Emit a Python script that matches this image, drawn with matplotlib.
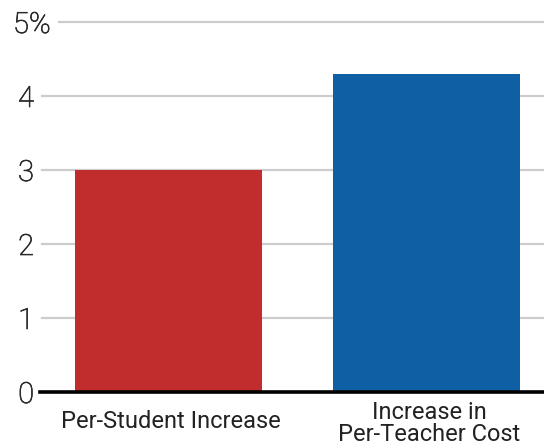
import matplotlib
matplotlib.use('Agg')
import matplotlib.pyplot as plt
import matplotlib.transforms as mtransforms
import matplotlib.patheffects as pe

plt.rcParams['font.family'] = ['Roboto', 'DejaVu Sans']

categories = ['Per-Student Increase', 'Increase in\nPer-Teacher Cost']
values = [3.0, 4.3]
colors = ['#C12D2C', '#0E5FA3']
yticks = [0, 1, 2, 3, 4, 5]
ytick_labels = ['0', '1', '2', '3', '4', '5%']

W, H = 544, 447
fig = plt.figure(figsize=(W / 100, H / 100), dpi=100)
# axes from x=40px to right edge, y=0 at 392px, y=5 at 22px
ax = fig.add_axes([40 / W, (H - 392) / H, (W - 40) / W, 370 / H])

xpos = list(range(len(categories)))
ax.bar(xpos, values, width=0.725, color=colors, zorder=3)
ax.set_xlim(-0.498, 1.455)
ax.set_ylim(0, 5)

# gridlines (top one starts after the "5%" label)
for t in yticks[1:]:
    xmin = 19 / (W - 40) if t == 5 else 2 / (W - 40)
    ax.axhline(t, xmin=xmin, xmax=1, color='#cccccc', lw=1.6, zorder=1, clip_on=False)
ax.axhline(0, color='black', lw=2.6, zorder=4, clip_on=False)

for s in ax.spines.values():
    s.set_visible(False)
ax.set_xticks([])
ax.set_yticks([])

# y labels: digits right-aligned at 33px, "5%" starting at 13px
ytrans = mtransforms.blended_transform_factory(fig.transFigure, ax.transData)
thicken = [pe.withStroke(linewidth=0.5, foreground='#2a2a2a')]
for t, lab in zip(yticks, ytick_labels):
    if lab.endswith('%'):
        ax.text(13 / W, t, lab, transform=ytrans, ha='left', va='center_baseline',
                fontsize=21, fontweight='light', color='#2a2a2a', path_effects=thicken)
    else:
        ax.text(34 / W, t, lab, transform=ytrans, ha='right', va='center_baseline',
                fontsize=21, fontweight='light', color='#2a2a2a', path_effects=thicken)

trans = mtransforms.blended_transform_factory(ax.transData, fig.transFigure)
label_tops = [(H - 410) / H, (H - 401) / H]
for x, lab, yt in zip(xpos, categories, label_tops):
    ax.text(x + 0.01, yt, lab, transform=trans, ha='center', va='top',
            fontsize=17, color='#222222', linespacing=0.95, multialignment='center')

fig.savefig('out.png', dpi=100)
